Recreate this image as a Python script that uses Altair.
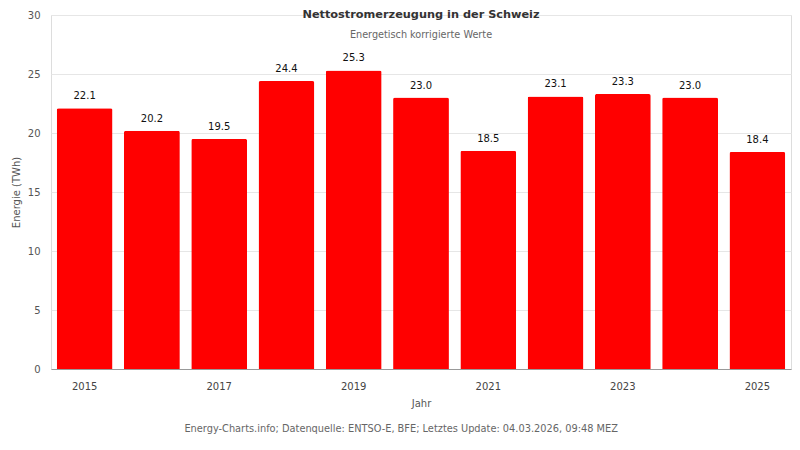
import pandas as pd
import altair as alt

# data
years = [2015, 2016, 2017, 2018, 2019, 2020, 2021, 2022, 2023, 2024, 2025]
energy_twh = [22.1, 20.2, 19.5, 24.4, 25.3, 23.0, 18.5, 23.1, 23.3, 23.0, 18.4]
year_ticks = [2015, 2017, 2019, 2021, 2023, 2025]
y_ticks = [0, 5, 10, 15, 20, 25, 30]

df = pd.DataFrame({"Jahr": years, "Energie": energy_twh})

font = "DejaVu Sans"

base = alt.Chart(df).encode(
    x=alt.X(
        "Jahr:O",
        title="Jahr",
        scale=alt.Scale(paddingInner=0.17, paddingOuter=0.085),
        axis=alt.Axis(
            values=year_ticks, labelAngle=0, ticks=False, labelPadding=12,
            domainColor="#999999", labelColor="#444444", labelFontSize=10,
            titleFontSize=10, titleFontWeight="normal", titleColor="#555555",
            titlePadding=7, grid=False,
        ),
    ),
    y=alt.Y(
        "Energie:Q",
        title="Energie (TWh)",
        scale=alt.Scale(domain=[0, 30], nice=False),
        axis=alt.Axis(
            values=y_ticks, domain=False, ticks=False, labelPadding=11,
            gridColor="#e6e6e6", labelColor="#555555", labelFontSize=10,
            titleFontSize=10, titleFontWeight="normal", titleColor="#555555",
            titlePadding=6,
        ),
    ),
)

bars = base.mark_bar(color="#ff0000", cornerRadiusTopLeft=2, cornerRadiusTopRight=2)

labels = base.mark_text(dy=-12, fontSize=10, color="#111111", font=font).encode(
    text=alt.Text("Energie:Q", format=".1f")
)

plot = (bars + labels).properties(
    width=740,
    height=354,
    title=alt.TitleParams(
        "Nettostromerzeugung in der Schweiz",
        subtitle="Energetisch korrigierte Werte",
        anchor="middle",
        offset=-30,
        fontSize=11.3,
        fontWeight="bold",
        color="#333333",
        subtitleFontSize=9.7,
        subtitleColor="#666666",
        subtitlePadding=10,
        font=font,
        subtitleFont=font,
    ),
)

chart = (
    alt.vconcat(plot)
    .properties(
        title=alt.TitleParams(
            "Energy-Charts.info; Datenquelle: ENTSO-E, BFE; Letztes Update: 04.03.2026, 09:48 MEZ",
            orient="bottom",
            anchor="middle",
            fontSize=9.8,
            fontWeight="normal",
            color="#666666",
            offset=15,
            font=font,
        ),
        padding={"left": 2, "top": 0, "right": 0, "bottom": 0},
    )
    .configure_view(strokeWidth=0)
    .configure(font=font)
)

chart.save("out.html", embed_options={"renderer": "svg", "actions": False})
